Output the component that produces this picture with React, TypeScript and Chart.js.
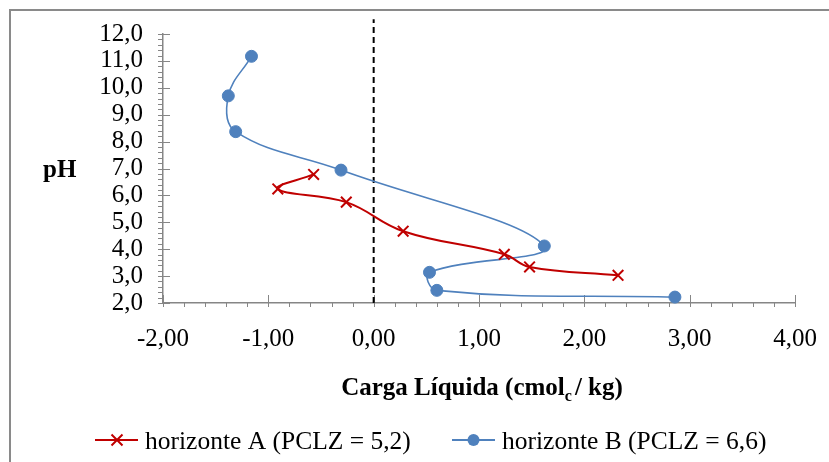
import React, { useEffect, useRef } from "react";
import { Chart, registerables } from "chart.js";

Chart.register(...registerables);

// ---- data ----
const horizonteAX = [-0.57, -0.91, -0.26, 0.28, 1.24, 1.48, 2.32];
const horizonteAY = [6.78, 6.24, 5.75, 4.67, 3.81, 3.34, 3.03];

const horizonteBX = [-1.16, -1.38, -1.31, -0.31, 1.62, 0.53, 0.6, 2.86];
const horizonteBY = [11.17, 9.7, 8.37, 6.94, 4.12, 3.14, 2.47, 2.22];

const zeroLineX = [0, 0];
const zeroLineY = [2, 12.55];

const xMin = -2;
const xMax = 4;
const yMin = 2;
const yMax = 12;
const minorStep = 0.2;

const legendLabels = ["horizonte A (PCLZ = 5,2)", "horizonte B (PCLZ = 6,6)"];
const xTitleMain = "Carga Líquida (cmol";
const xTitleSub = "c";
const xTitleEnd = "/ kg)";
const yTitle = "pH";

const RED = "#C00000";
const BLUE = "#4F81BD";
const AXIS = "#868686";
const FONT = "'Liberation Serif', 'Times New Roman', serif";

const toPoints = (xs: number[], ys: number[]) => xs.map((x, i) => ({ x, y: ys[i] }));

const decorPlugin = {
  id: "decor",
  beforeDatasetsDraw(chart: any) {
    const { ctx, chartArea, scales } = chart;
    const xs = scales.x;
    const ys = scales.y;
    ctx.save();
    ctx.strokeStyle = AXIS;
    ctx.lineWidth = 1;
    const nX = Math.round((xMax - xMin) / minorStep);
    for (let i = 0; i <= nX; i++) {
      const v = xMin + i * minorStep;
      const px = Math.round(xs.getPixelForValue(v)) + 0.5;
      const major = i % 5 === 0;
      ctx.beginPath();
      ctx.moveTo(px, chartArea.bottom + 4);
      ctx.lineTo(px, major ? chartArea.bottom - 8 : chartArea.bottom);
      ctx.stroke();
    }
    const nY = Math.round((yMax - yMin) / minorStep);
    for (let i = 0; i <= nY; i++) {
      const v = yMin + i * minorStep;
      const py = Math.round(ys.getPixelForValue(v)) + 0.5;
      const major = i % 5 === 0;
      ctx.beginPath();
      ctx.moveTo(chartArea.left - 5, py);
      ctx.lineTo(major ? chartArea.left + 7 : chartArea.left, py);
      ctx.stroke();
    }
    ctx.restore();
  },
  afterDraw(chart: any) {
    const { ctx, chartArea } = chart;
    ctx.save();
    // outer frame (top and left edges visible)
    ctx.strokeStyle = "#8a8a8a";
    ctx.lineWidth = 2;
    ctx.beginPath();
    ctx.moveTo(10, 470);
    ctx.lineTo(10, 10);
    ctx.lineTo(840, 10);
    ctx.stroke();

    // y title
    ctx.fillStyle = "#000";
    ctx.font = `bold 25px ${FONT}`;
    ctx.textAlign = "left";
    ctx.textBaseline = "alphabetic";
    ctx.fillText(yTitle, 43, 177);

    // x title with subscript
    const bold = `bold 25px ${FONT}`;
    const boldSmall = `bold 16px ${FONT}`;
    ctx.font = bold;
    const w1 = ctx.measureText(xTitleMain).width;
    const w3 = ctx.measureText(xTitleEnd).width;
    ctx.font = boldSmall;
    const w2 = ctx.measureText(xTitleSub).width;
    const gap = 3;
    const total = w1 + w2 + gap + w3;
    const cx = (chartArea.left + chartArea.right) / 2 + 3;
    let tx = cx - total / 2;
    const base = 395;
    ctx.font = bold;
    ctx.fillText(xTitleMain, tx, base);
    tx += w1;
    ctx.font = boldSmall;
    ctx.fillText(xTitleSub, tx, base + 6);
    tx += w2 + gap;
    ctx.font = bold;
    ctx.fillText(xTitleEnd, tx, base);

    // legend
    ctx.font = `25.5px ${FONT}`;
    const lineY = 440;
    const textBase = 449;
    // item A
    ctx.strokeStyle = RED;
    ctx.lineWidth = 2;
    ctx.beginPath();
    ctx.moveTo(95, lineY);
    ctx.lineTo(138, lineY);
    ctx.stroke();
    const r = 5.5;
    const cxA = 117;
    ctx.beginPath();
    ctx.moveTo(cxA - r, lineY - r);
    ctx.lineTo(cxA + r, lineY + r);
    ctx.moveTo(cxA - r, lineY + r);
    ctx.lineTo(cxA + r, lineY - r);
    ctx.stroke();
    ctx.fillStyle = "#000";
    ctx.fillText(legendLabels[0], 145, textBase);
    // item B
    ctx.strokeStyle = BLUE;
    ctx.lineWidth = 2;
    ctx.beginPath();
    ctx.moveTo(452, lineY);
    ctx.lineTo(495, lineY);
    ctx.stroke();
    ctx.fillStyle = BLUE;
    ctx.beginPath();
    ctx.arc(473.5, lineY, 6, 0, Math.PI * 2);
    ctx.fill();
    ctx.fillStyle = "#000";
    ctx.fillText(legendLabels[1], 502, textBase);
    ctx.restore();
  },
};

export default function App() {
  const ref = useRef<HTMLCanvasElement>(null);
  useEffect(() => {
    document.body.style.margin = "0";
    const chart = new Chart(ref.current as HTMLCanvasElement, {
      type: "scatter",
      data: {
        datasets: [
          {
            label: legendLabels[0],
            data: toPoints(horizonteAX, horizonteAY),
            showLine: true,
            borderColor: RED,
            borderWidth: 2,
            tension: 0.4,
            pointStyle: "crossRot",
            pointRadius: 7.5,
            pointBorderWidth: 2,
            pointBorderColor: RED,
            pointBackgroundColor: RED,
          },
          {
            label: legendLabels[1],
            data: toPoints(horizonteBX, horizonteBY),
            showLine: true,
            borderColor: BLUE,
            borderWidth: 1.6,
            tension: 0.4,
            pointStyle: "circle",
            pointRadius: 6,
            pointBorderWidth: 1,
            pointBorderColor: BLUE,
            pointBackgroundColor: BLUE,
            clip: false,
          },
          {
            label: "zero",
            data: toPoints(zeroLineX, zeroLineY),
            showLine: true,
            borderColor: "#000",
            borderWidth: 2,
            borderDash: [6, 4],
            pointRadius: 0,
            tension: 0,
            clip: false,
          },
        ],
      },
      options: {
        responsive: false,
        animation: false,
        layout: { padding: { top: 34, right: 34, left: 0, bottom: 0 } },
        plugins: {
          legend: { display: false },
          tooltip: { enabled: false },
        },
        scales: {
          x: {
            type: "linear",
            min: xMin,
            max: xMax,
            afterFit: (s: any) => {
              s.height = 159;
              s.paddingLeft = 0;
              s.paddingRight = 0;
            },
            ticks: {
              stepSize: 1,
              padding: 21,
              autoSkip: false,
              color: "#000",
              font: { family: FONT, size: 25 },
              maxRotation: 0,
              callback: (v: any) => Number(v).toFixed(2).replace(".", ","),
            },
            grid: { display: false, drawTicks: false },
            border: { display: true, color: AXIS, width: 1.5 },
          },
          y: {
            type: "linear",
            min: yMin,
            max: yMax,
            afterFit: (s: any) => {
              s.width = 163;
              s.paddingTop = 0;
              s.paddingBottom = 0;
            },
            ticks: {
              stepSize: 1,
              padding: 20,
              autoSkip: false,
              color: "#000",
              font: { family: FONT, size: 25 },
              callback: (v: any) => Number(v).toFixed(1).replace(".", ","),
            },
            grid: { display: false, drawTicks: false },
            border: { display: true, color: AXIS, width: 1.5 },
          },
        },
      },
      plugins: [decorPlugin],
    } as any);
    return () => chart.destroy();
  }, []);
  return (
    <div style={{ width: 829, height: 462 }}>
      <canvas ref={ref} width={829} height={462} style={{ display: "block" }} />
    </div>
  );
}
